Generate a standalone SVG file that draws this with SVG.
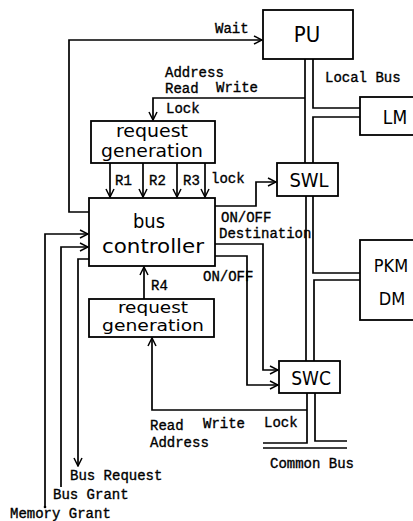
<svg xmlns="http://www.w3.org/2000/svg" width="413" height="521" viewBox="0 0 413 521">
<style>
.bg{fill:#fff}
.box{fill:#fff;stroke:#000;stroke-width:1.8}
.ln{fill:none;stroke:#000;stroke-width:1.7}
.arr{marker-end:url(#ah)}
.bt{font-family:"DejaVu Sans Condensed","DejaVu Sans","Liberation Sans",sans-serif;font-stretch:condensed;fill:#000;text-anchor:middle}
.lb{font-family:"Liberation Mono","DejaVu Sans Mono",monospace;font-size:14px;fill:#000;stroke:#000;stroke-width:0.35}
</style>
<defs>
<marker id="ah" markerWidth="10" markerHeight="10" refX="9" refY="5" orient="auto" markerUnits="userSpaceOnUse">
<path d="M1,1 L9,5 L1,9" fill="none" stroke="#000" stroke-width="1.5"/>
</marker>
</defs>
<rect class="bg" x="0" y="0" width="413" height="521"/>
<g id="connectors">
<path class="ln arr" d="M89,212 H69 V40 H262"/>
<path class="ln arr" d="M305,98 H153 V120"/>
<path class="ln arr" d="M110,163 V197"/>
<path class="ln arr" d="M143,163 V197"/>
<path class="ln arr" d="M177,163 V197"/>
<path class="ln arr" d="M205,163 V197"/>
<path class="ln arr" d="M215,206 H256 V182 H276"/>
<path class="ln arr" d="M215,244 H263 V370 H278"/>
<path class="ln arr" d="M215,256 H247 V385 H278"/>
<path class="ln arr" d="M144,299 V267"/>
<path class="ln arr" d="M307,410 H152 V338"/>
<path class="ln arr" d="M45,507 V234 H88"/>
<circle cx="45" cy="507" r="1.3" fill="#000"/>
<path class="ln arr" d="M61,487 V247 H88"/>
<path class="ln arr" d="M89,259 H78 V466"/>
<path class="ln" d="M305,59 V163"/>
<path class="ln" d="M313,59 V108 H360"/>
<path class="ln" d="M360,117 H313 V163"/>
<path class="ln" d="M306,196 V361"/>
<path class="ln" d="M313,196 V273 H360"/>
<path class="ln" d="M360,280 H314 V361"/>
<path class="ln" d="M307,393 V443 H263"/>
<path class="ln" d="M315,393 V441 H347"/>
<path class="ln" d="M263,448 H347"/>
</g>
<g id="PU">
<rect class="box" x="263" y="10" width="90" height="49"/>
<text class="bt" x="307" y="42" font-size="22">PU</text>
</g>
<g id="LM">
<rect class="box" x="360" y="97" width="60" height="38"/>
<text class="bt" x="395" y="124" font-size="19">LM</text>
</g>
<g id="SWL">
<rect class="box" x="277" y="163" width="61" height="33"/>
<text class="bt" x="309" y="187" font-size="20">SWL</text>
</g>
<g id="PKM">
<rect class="box" x="360" y="240" width="60" height="80"/>
<text class="bt" x="391" y="272" font-size="18">PKM</text>
<text class="bt" x="392" y="305" font-size="18">DM</text>
</g>
<g id="SWC">
<rect class="box" x="279" y="361" width="61" height="32"/>
<text class="bt" x="311" y="385" font-size="19">SWC</text>
</g>
<g id="reqgen1">
<rect class="box" x="91" y="121" width="124" height="42"/>
<text class="bt" x="152" y="137" font-size="17" textLength="72" lengthAdjust="spacingAndGlyphs">request</text>
<text class="bt" x="152" y="157" font-size="17" textLength="102" lengthAdjust="spacingAndGlyphs">generation</text>
</g>
<g id="buscontroller">
<rect class="box" x="89" y="198" width="126" height="68"/>
<text class="bt" x="149" y="228" font-size="20" textLength="32" lengthAdjust="spacingAndGlyphs">bus</text>
<text class="bt" x="153" y="253" font-size="20" textLength="102" lengthAdjust="spacingAndGlyphs">controller</text>
</g>
<g id="reqgen2">
<rect class="box" x="89" y="299" width="125" height="38"/>
<text class="bt" x="153" y="313" font-size="15.5" textLength="70" lengthAdjust="spacingAndGlyphs">request</text>
<text class="bt" x="153" y="331" font-size="15.5" textLength="102" lengthAdjust="spacingAndGlyphs">generation</text>
</g>
<g id="labels">
<text class="lb" x="215" y="33">Wait</text>
<text class="lb" x="325" y="82">Local Bus</text>
<text class="lb" x="165" y="77">Address</text>
<text class="lb" x="165" y="93">Read</text>
<text class="lb" x="216" y="92">Write</text>
<text class="lb" x="166" y="113">Lock</text>
<text class="lb" x="115" y="185">R1</text>
<text class="lb" x="149" y="185">R2</text>
<text class="lb" x="183" y="185">R3</text>
<text class="lb" x="211" y="183">lock</text>
<text class="lb" x="221" y="222">ON/OFF</text>
<text class="lb" x="219" y="238">Destination</text>
<text class="lb" x="203" y="281">ON/OFF</text>
<text class="lb" x="151" y="290">R4</text>
<text class="lb" x="150" y="430">Read</text>
<text class="lb" x="203" y="428">Write</text>
<text class="lb" x="264" y="427">Lock</text>
<text class="lb" x="150" y="447">Address</text>
<text class="lb" x="270" y="468">Common Bus</text>
<text class="lb" x="70" y="480">Bus Request</text>
<text class="lb" x="53" y="499">Bus Grant</text>
<text class="lb" x="10" y="518">Memory Grant</text>
</g>
</svg>
